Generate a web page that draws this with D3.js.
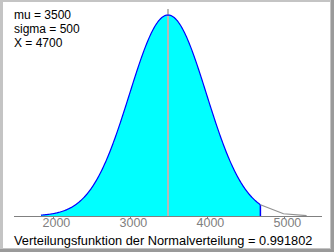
<!DOCTYPE html>
<html>
<head>
<meta charset="utf-8">
<script src="https://cdn.jsdelivr.net/npm/d3@7"></script>
<style>
body { margin: 0; background: #fff; }
svg { display: block; font-family: "Liberation Sans", Arial, sans-serif; }
</style>
</head>
<body>
<div id="chart"></div>
<script>
// parameters shown in the chart
const paramNames = ["mu", "sigma", "X"]
const paramValues = [3500, 500, 4700]
const tickValues = [2000, 3000, 4000, 5000]
const cdfLabel = "Verteilungsfunktion der Normalverteilung = 0.991802"
const xDomain = [1500, 5500]

const mu = paramValues[0], sigma = paramValues[1], X = paramValues[2];

var width = 334, height = 252;
var svg = d3.select("#chart").append("svg")
    .attr("width", width)
    .attr("height", height);

// 3d frame like the old applet
svg.append("rect").attr("width", width).attr("height", height).attr("fill", "#c4c4c4");
svg.append("rect").attr("x", 331).attr("y", 0).attr("width", 3).attr("height", height).attr("fill", "#9a9a9a");
svg.append("rect").attr("x", 0).attr("y", 249).attr("width", width).attr("height", 3).attr("fill", "#9a9a9a");
svg.append("rect").attr("x", 3).attr("y", 2).attr("width", 327).attr("height", 246).attr("fill", "#ffffff");

var x = d3.scaleLinear().domain(xDomain).range([14, 322]);
var y = d3.scaleLinear().domain([0, 1]).range([216, 15]);

function dens(v) {
    var z = (v - mu) / sigma;
    return Math.exp(-z * z / 2);
}

// sampled curve
var left = mu - 3.3 * sigma;
var fillPts = d3.range(left, X, 10).concat([X]);
var tailPts = [X];
for (var v = X + 300; v <= mu + 3.6 * sigma + 1; v += 300) tailPts.push(v);

var area = d3.area()
    .x(d => x(d))
    .y0(y(0))
    .y1(d => y(dens(d)));
var line = d3.line()
    .x(d => x(d))
    .y(d => y(dens(d)));

svg.append("path")
    .attr("d", area(fillPts))
    .attr("fill", "#00ffff");

// mean line
svg.append("line")
    .attr("x1", x(mu)).attr("x2", x(mu))
    .attr("y1", 9).attr("y2", y(0))
    .attr("stroke", "#b8b8b8").attr("stroke-width", 2);

svg.append("path")
    .attr("d", line(fillPts))
    .attr("fill", "none")
    .attr("stroke", "#0000ff")
    .attr("stroke-width", 1.2);

svg.append("line")
    .attr("x1", x(X)).attr("x2", x(X))
    .attr("y1", y(dens(X))).attr("y2", y(0))
    .attr("stroke", "#0000ff").attr("stroke-width", 1.5);

svg.append("path")
    .attr("d", line(tailPts))
    .attr("fill", "none")
    .attr("stroke", "#909090")
    .attr("stroke-width", 1.2);

// axis
svg.append("line")
    .attr("x1", 14).attr("x2", 322)
    .attr("y1", 216.5).attr("y2", 216.5)
    .attr("stroke", "#808080");

svg.selectAll(".tick")
    .data(tickValues)
    .enter()
    .append("line")
    .attr("x1", d => Math.round(x(d)) + 0.5).attr("x2", d => Math.round(x(d)) + 0.5)
    .attr("y1", 216).attr("y2", 219)
    .attr("stroke", "#808080");

svg.selectAll(".ticklabel")
    .data(tickValues)
    .enter()
    .append("text")
    .attr("x", d => x(d) - 10)
    .attr("y", 227)
    .attr("font-size", 12.5)
    .attr("fill", "#808080")
    .text(d => d);

// parameter text
svg.selectAll(".param")
    .data(paramNames)
    .enter()
    .append("text")
    .attr("x", 14)
    .attr("y", (d, i) => 19 + i * 14)
    .attr("font-size", 12)
    .attr("fill", "#000")
    .text((d, i) => d + " = " + paramValues[i]);

svg.append("text")
    .attr("x", 14)
    .attr("y", 245)
    .attr("font-size", 12.8)
    .attr("fill", "#000")
    .text(cdfLabel);
</script>
</body>
</html>
